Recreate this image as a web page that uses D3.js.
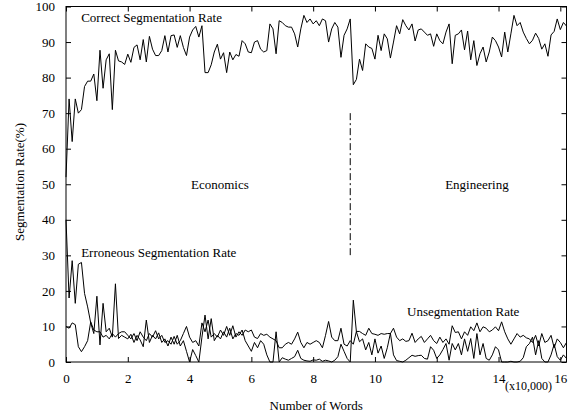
<!DOCTYPE html>
<html><head><meta charset="utf-8">
<script src="https://cdn.jsdelivr.net/npm/d3@7"></script>
<style>
body{margin:0;background:#fff}
svg{display:block}
text{font-family:"Liberation Serif","Times New Roman",serif;fill:#000}
</style>
</head><body>
<svg id="chart" width="576" height="413"></svg>
<script>
// x in units of 10,000 words, one sample every 0.1
const wordStep = 0.1;
const correctRate = [
 52,74,62,74,70,71,77.5,79,79,81,
 73.5,87.7,77,85,86.7,71,87.7,84.7,84.4,83.7,
 86.6,84.3,88.5,89.2,85,90.7,84.4,91.6,88,86.2,
 86.2,87.6,91.8,87.2,91.8,92,88.5,91.8,88.5,86.2,
 91.4,93.4,94.4,91.4,94.6,81.4,81.4,83.6,87.2,89.4,
 85.2,87,81.4,87.2,85,86.5,86,90.4,89.5,87.2,
 87,90,90.4,88,87.2,87.6,95.1,93.7,86.7,96,
 95.5,94.6,94.2,94.2,92.3,88.6,93.7,97.5,95.5,96.5,
 95.1,96,94.6,96.5,96,90,93.7,95.5,94.2,85.7,
 91.9,93.7,96.5,78,79.5,85.2,82,89.5,88.6,88.2,
 85.2,91.9,87.6,92.3,90.9,85.5,90,94.6,92.3,96.3,
 94.6,93.4,95.1,90.3,93.4,93.7,92.8,91.9,92.3,88.8,
 92.3,90.4,89.5,92.8,95.1,83.9,91.9,92.3,93.4,87.8,
 93.1,85,90.4,83.4,86.7,88.6,84.4,87.2,91.4,90.4,
 88.6,85.8,92.8,87.2,92.3,97.5,94.6,95.5,92.8,91,
 89.5,90.5,92.5,91,88,89.5,86,92,93,96.5,
 93.5,95.5,94.5
];
const erroneousRate = [
 40,18,28.5,16.5,27.5,28,19.3,15.5,11,8,
 18.5,4.8,16.5,8.5,9.5,7,22,6.6,7.5,7,
 6.5,7.8,5.5,7.5,6.2,4.3,11.8,5.5,7.5,6.5,
 8.2,5.5,6.5,4.5,7,5,7.5,4.5,6,3,
 0,3.5,1.8,0,7,13.2,6.5,12.2,6,7.5,
 6.5,8.5,7,9.5,6.5,8,7.5,9,6,4.5,
 3,5.5,4,6,5,2,0,0,8.5,0,
 1.2,0.8,0.5,1,1.5,3.3,1,0.5,0.3,0.2,
 0.6,0.5,0.8,0.2,0.5,0.3,0,0.5,1.5,5,
 3,1,0,17.4,8.5,5.7,6.5,3.4,5.5,2,
 6.5,2.5,4.5,1,4,8.1,2,0.4,0.2,0,
 0.5,1.2,1.9,1.6,1.8,1.9,1,0.8,4.3,3.3,
 1,2,3.5,5.2,0.5,5.2,3.4,5.2,2,6.5,
 3,6.6,1,8,2,5.2,1,0.5,2,4.3,
 3.4,0,0,0,0.2,0,0,0.2,1.2,4.3,
 5.2,7,2,6,1,0,0,2,5,1.5,
 0.5,2,1
];
const unsegmentationRate = [
 10,9.5,11,10.5,4.3,2.9,4.3,6,11.3,9,
 8.5,8.5,7,7.5,6.5,8,7,8,8.5,8.5,
 7.5,6.5,8,6,8.5,7,6,8,7,8.8,
 6.5,7.5,5.5,6,5,7.2,5,6,8,10,
 7,5.5,6,4.5,11,8.5,11.8,7,8,7,
 9,7.5,10,7.5,10.2,7,8.5,7.5,9,8.5,
 9,7,6.6,8,7.5,7.8,7,6.5,6,4,
 4,5,5.5,5,6.5,8.4,5.5,4,5.5,5,
 5.5,6,5.5,4,7.5,11.4,7,6,6,9.5,
 5,4.5,6,5,8.6,8.6,8,7.5,9.5,8,
 7.8,7.5,8,7.8,8,8,9.5,7,6,6.5,
 5.8,6,8.1,5.5,6.5,7.2,5.5,6.5,7.5,6,
 5.2,7,5.5,6.5,5,10.2,8.3,8.5,6.5,8.5,
 7.5,9.9,8.8,11,8.5,9.9,9.5,8.5,9,9.9,
 8.8,11.3,8.5,6.5,5,6.5,8,7,7.5,6.8,
 6.5,5.5,7.5,4.5,8,5.5,6,7.5,4,6.5,
 5.5,4,5.5
];
const xTicks = [0,2,4,6,8,10,12,14,16];
const yTicks = [0,10,20,30,40,50,60,70,80,90,100];
const domainBoundary = 9.2;            // Economics | Engineering
const boundaryRange = [30, 70];
const xLabel = "Number of Words";
const xUnit = "(x10,000)";
const yLabel = "Segmentation Rate(%)";

const svg = d3.select("#chart");
const x = d3.scaleLinear().domain([0, 16.2]).range([66, 566.5]);
const y = d3.scaleLinear().domain([0, 100]).range([362, 6.5]);
const FS = 13;

// frame
svg.append("rect").attr("x", x(0)).attr("y", y(100))
  .attr("width", x(16.2) - x(0)).attr("height", y(0) - y(100))
  .attr("fill", "none").attr("stroke", "#000").attr("stroke-width", 1);

function styleAxis(g) {
  g.select(".domain").remove();
  g.selectAll("line").attr("stroke", "#000");
  g.selectAll("text").attr("font-family", '"Liberation Serif","Times New Roman",serif')
    .attr("font-size", FS).attr("fill", "#000");
}
svg.append("g").attr("transform", `translate(0,${y(0)})`)
  .call(d3.axisBottom(x).tickValues(xTicks).tickSize(-5).tickSizeOuter(0).tickPadding(12).tickFormat(d3.format("d")))
  .call(styleAxis);
svg.append("g").attr("transform", `translate(0,${y(100)})`)
  .call(d3.axisTop(x).tickValues(xTicks).tickSize(-5).tickSizeOuter(0).tickFormat(""))
  .call(styleAxis);
svg.append("g").attr("transform", `translate(${x(0)},0)`)
  .call(d3.axisLeft(y).tickValues(yTicks).tickSize(-5).tickSizeOuter(0).tickPadding(11))
  .call(styleAxis);
svg.append("g").attr("transform", `translate(${x(16.2)},0)`)
  .call(d3.axisRight(y).tickValues(yTicks).tickSize(-5).tickSizeOuter(0).tickFormat(""))
  .call(styleAxis);

// series
const line = d3.line().x((d, i) => x(i * wordStep)).y(d => y(d));
[correctRate, erroneousRate, unsegmentationRate].forEach(s => {
  svg.append("path").datum(s).attr("d", line)
    .attr("fill", "none").attr("stroke", "#000").attr("stroke-width", 1)
    .attr("stroke-linejoin", "miter");
});

// boundary dash-dot
svg.append("line")
  .attr("x1", x(domainBoundary)).attr("x2", x(domainBoundary))
  .attr("y1", y(boundaryRange[1])).attr("y2", y(boundaryRange[0]))
  .attr("stroke", "#000").attr("stroke-width", 1).attr("stroke-dasharray", "7,3,2,3");

// annotations
function label(txt, xv, yv, anchor) {
  svg.append("text").attr("x", x(xv)).attr("y", y(yv)).attr("font-size", FS)
    .attr("text-anchor", anchor || "start").text(txt);
}
label("Correct Segmentation Rate", 0.49, 95.6);
label("Erroneous Segmentation Rate", 0.49, 29.5);
label("Unsegmentation Rate", 11.04, 12.9);
label("Economics", 4.98, 48.7, "middle");
label("Engineering", 13.3, 48.7, "middle");

svg.append("text").attr("x", (x(0) + x(16.2)) / 2).attr("y", 410)
  .attr("text-anchor", "middle").attr("font-size", FS).text(xLabel);
svg.append("text").attr("x", 505).attr("y", 390)
  .attr("font-size", 12).text(xUnit);
svg.append("text").attr("transform", "translate(24,182) rotate(-90)")
  .attr("text-anchor", "middle").attr("font-size", FS).text(yLabel);
</script>
</body></html>
